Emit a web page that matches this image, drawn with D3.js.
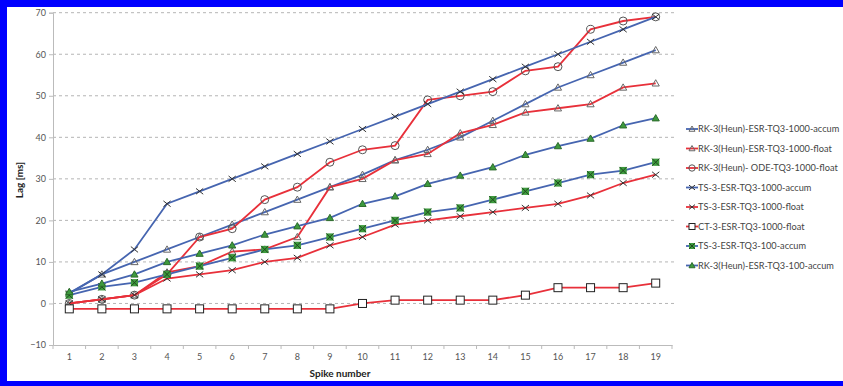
<!DOCTYPE html>
<html><head><meta charset="utf-8">
<script src="https://cdn.jsdelivr.net/npm/d3@7/dist/d3.min.js"></script>
<style>body{margin:0;background:#fff}svg{display:block}</style>
</head><body><svg id="c" width="843" height="386"></svg>
<script>
const categories = [1,2,3,4,5,6,7,8,9,10,11,12,13,14,15,16,17,18,19];
const yTicks = [-10,0,10,20,30,40,50,60,70];
const seriesNames = [
  "RK-3(Heun)-ESR-TQ3-1000-accum",
  "RK-3(Heun)-ESR-TQ3-1000-float",
  "RK-3(Heun)- ODE-TQ3-1000-float",
  "TS-3-ESR-TQ3-1000-accum",
  "TS-3-ESR-TQ3-1000-float",
  "CT-3-ESR-TQ3-1000-float",
  "TS-3-ESR-TQ3-100-accum",
  "RK-3(Heun)-ESR-TQ3-100-accum"
];
const rkEsr1000Accum = [2.5,7,10,13,16,19,22,25,28,31,34.5,37,40,44,48,52,55,58,61];
const rkEsr1000Float = [0,1,2,7.5,9,12.5,13,16,28,30,34.5,36,41,43,46,47,48,52,53];
const rkOde1000Float = [0,1,2,7,16,18,25,28,34,37,38,49,50,51,56,57,66,68,69];
const tsEsr1000Accum = [2.4,7,13,24,27,30,33,36,39,42,45,48,51,54,57,60,63,66,69];
const tsEsr1000Float = [0,1,2,6,7,8,10,11,14,16,19,20,21,22,23,24,26,29,31];
const ctEsr1000Float = [-1.3,-1.3,-1.3,-1.3,-1.3,-1.3,-1.3,-1.3,-1.3,0,0.8,0.8,0.8,0.8,2,3.8,3.8,3.8,4.9];
const tsEsr100Accum = [2,4,5,7,9,11,13,14,16,18,20,22,23,25,27,29,31,32,34];
const rkEsr100Accum = [2.8,4.8,7,10,12,14,16.6,18.6,20.6,24,25.8,28.8,30.8,32.8,35.8,37.9,39.7,42.9,44.6];

const BLUE = "#4665b0", RED = "#e8303a", GREEN = "#3d9a3d";
const series = [
  {name: seriesNames[0], values: rkEsr1000Accum, color: BLUE, marker: "tri", fill: "none"},
  {name: seriesNames[1], values: rkEsr1000Float, color: RED, marker: "tri", fill: "none"},
  {name: seriesNames[2], values: rkOde1000Float, color: RED, marker: "circle", fill: "none"},
  {name: seriesNames[3], values: tsEsr1000Accum, color: BLUE, marker: "x", fill: "none"},
  {name: seriesNames[4], values: tsEsr1000Float, color: RED, marker: "x", fill: "none"},
  {name: seriesNames[5], values: ctEsr1000Float, color: RED, marker: "square", fill: "#fff"},
  {name: seriesNames[6], values: tsEsr100Accum, color: BLUE, marker: "sqx", fill: GREEN},
  {name: seriesNames[7], values: rkEsr100Accum, color: BLUE, marker: "tri", fill: GREEN}
];

const svg = d3.select("#c");
const FONT = "Lato, 'Open Sans', sans-serif";
const pLeft = 53, pRight = 672, pTop = 12.7, pBottom = 345;
const x = d3.scaleBand().domain(categories).range([pLeft, pRight]);
const y = d3.scaleLinear().domain([-10, 70]).range([pBottom, pTop]);

// gridlines
svg.append("g").selectAll("line").data(yTicks.filter(t => t > -10)).join("line")
  .attr("x1", pLeft).attr("x2", pRight + 4)
  .attr("y1", d => y(d)).attr("y2", d => y(d))
  .attr("stroke", "#b5b5b5").attr("stroke-width", 1).attr("stroke-dasharray", "3,3");

// y axis
const yAxis = svg.append("g").attr("transform", `translate(${pLeft},0)`)
  .call(d3.axisLeft(y).tickValues(yTicks).tickSize(4).tickPadding(3));
yAxis.select(".domain").attr("stroke", "#bbb");
yAxis.selectAll(".tick line").attr("stroke", "#bbb");
yAxis.selectAll(".tick text").attr("fill", "#555").style("font-family", FONT).style("font-size", "9px");

// x axis
const xAxis = svg.append("g").attr("transform", `translate(0,${pBottom})`)
  .call(d3.axisBottom(x).tickSize(0).tickPadding(9));
xAxis.select(".domain").attr("stroke", "#bbb");
xAxis.selectAll(".tick text").attr("fill", "#555").style("font-family", FONT).style("font-size", "9px");
xAxis.selectAll(".bt").data(categories.concat([null])).join("line")
  .attr("x1", (d, i) => pLeft + i * x.step()).attr("x2", (d, i) => pLeft + i * x.step())
  .attr("y1", 0).attr("y2", 4).attr("stroke", "#bbb");

// axis titles
svg.append("text").attr("x", 340).attr("y", 377).attr("text-anchor", "middle")
  .style("font-family", FONT).style("font-size", "10px").style("font-weight", "bold").attr("fill", "#222")
  .text("Spike number");
svg.append("text").attr("transform", "translate(23,180) rotate(-90)").attr("text-anchor", "middle")
  .style("font-family", FONT).style("font-size", "10px").style("font-weight", "bold").attr("fill", "#222")
  .text("Lag [ms]");

function drawMarker(g, s, cx, cy, size) {
  const r = size;
  if (s.marker === "tri") {
    g.append("path").attr("d", `M${cx},${cy - r}L${cx + r},${cy + r * 0.75}L${cx - r},${cy + r * 0.75}Z`)
      .attr("fill", s.fill).attr("stroke", s.fill === "none" ? "#666" : "#2d6b2d").attr("stroke-width", 1);
  } else if (s.marker === "circle") {
    g.append("circle").attr("cx", cx).attr("cy", cy).attr("r", r)
      .attr("fill", "none").attr("stroke", "#555").attr("stroke-width", 1);
  } else if (s.marker === "x") {
    g.append("path").attr("d", `M${cx - r},${cy - r * 0.8}L${cx + r},${cy + r * 0.8}M${cx - r},${cy + r * 0.8}L${cx + r},${cy - r * 0.8}`)
      .attr("stroke", "#333").attr("stroke-width", 1);
  } else if (s.marker === "square") {
    g.append("rect").attr("x", cx - r).attr("y", cy - r).attr("width", 2 * r).attr("height", 2 * r)
      .attr("fill", "#fff").attr("stroke", "#222").attr("stroke-width", 1);
  } else if (s.marker === "sqx") {
    g.append("rect").attr("x", cx - r).attr("y", cy - r).attr("width", 2 * r).attr("height", 2 * r)
      .attr("fill", s.fill).attr("stroke", "none");
    g.append("path").attr("d", `M${cx - r},${cy - r}L${cx + r},${cy + r}M${cx - r},${cy + r}L${cx + r},${cy - r}`)
      .attr("stroke", "#1f4a1f").attr("stroke-width", 1);
  }
}

const line = d3.line().x((d, i) => x(categories[i]) + x.bandwidth() / 2).y(d => y(d));
series.forEach(s => {
  const g = svg.append("g");
  g.append("path").attr("d", line(s.values)).attr("fill", "none")
    .attr("stroke", s.color).attr("stroke-width", 1.8);
  s.values.forEach((v, i) => {
    drawMarker(g, s, x(categories[i]) + x.bandwidth() / 2, y(v), s.marker === "circle" ? 4 : (s.marker === "square" ? 4 : 3.6));
  });
});

// legend
const lg = svg.append("g");
series.forEach((s, i) => {
  const ly = 129 + i * 19.5;
  const g = lg.append("g");
  g.append("line").attr("x1", 686).attr("x2", 698).attr("y1", ly).attr("y2", ly)
    .attr("stroke", s.color).attr("stroke-width", 1.8);
  drawMarker(g, s, 692, ly, s.marker === "circle" ? 3.2 : 3);
  g.append("text").attr("x", 698).attr("y", ly + 3).attr("fill", "#444")
    .style("font-family", FONT).style("font-size", "9.2px").text(s.name);
});

// blue frame
svg.append("rect").attr("x", 0).attr("y", 0).attr("width", 843).attr("height", 7).attr("fill", "#0000ff");
svg.append("rect").attr("x", 0).attr("y", 0).attr("width", 7).attr("height", 386).attr("fill", "#0000ff");
svg.append("rect").attr("x", 0).attr("y", 381).attr("width", 843).attr("height", 5).attr("fill", "#0000ff");
</script></body></html>
